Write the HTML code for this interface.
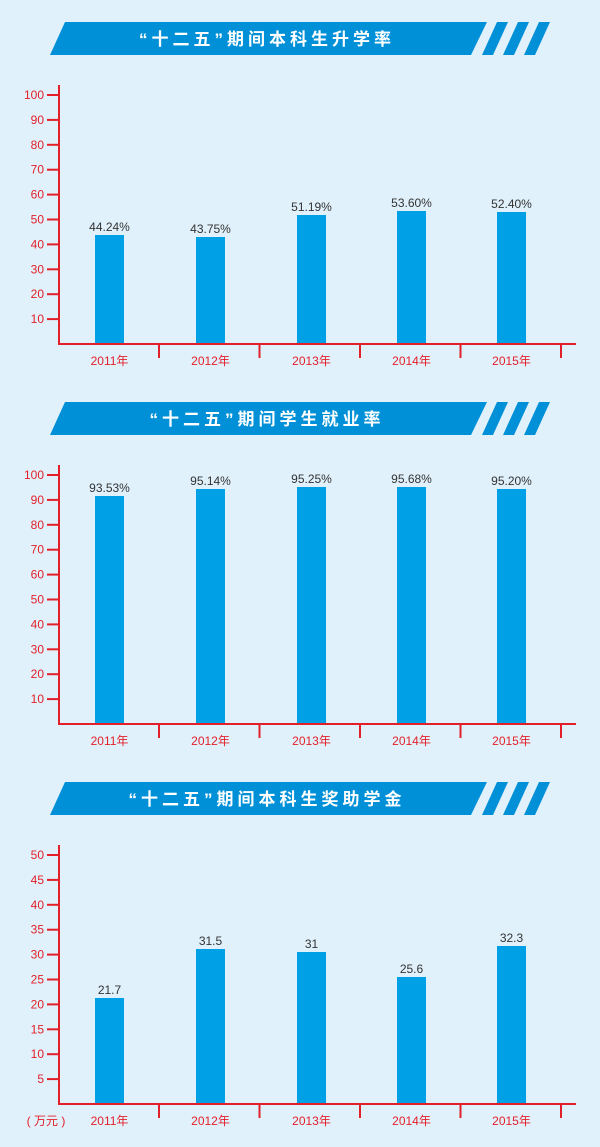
<!DOCTYPE html>
<html><head><meta charset="utf-8">
<style>
html,body{margin:0;padding:0;background:#e0f1fb;}
svg{display:block}
text{font-family:"Liberation Sans","Noto Sans CJK SC",sans-serif}
</style></head>
<body>
<svg id="s" width="600" height="1147" xmlns="http://www.w3.org/2000/svg">
<rect width="600" height="1147" fill="#e0f1fb"/>
</svg>
<script>
var s=document.getElementById('s'),h='';
var charts=[
 {t:'“十二五”期间本科生升学率',ticks:['10','20','30','40','50','60','70','80','90','100'],tops:[235,237,215,211,212],labs:['44.24%','43.75%','51.19%','53.60%','52.40%']},
 {t:'“十二五”期间学生就业率',ticks:['10','20','30','40','50','60','70','80','90','100'],tops:[496,489,487,487,489],labs:['93.53%','95.14%','95.25%','95.68%','95.20%']},
 {t:'“十二五”期间本科生奖助学金',ticks:['5','10','15','20','25','30','35','40','45','50'],tops:[998,949,952,977,946],labs:['21.7','31.5','31','25.6','32.3']}
];
var bx=[95,196,297,397,497],yrs=['2011年','2012年','2013年','2014年','2015年'];
charts.forEach(function(c,i){
 var o=i*380,b=344+o;
 var by=22+o;
 h+='<polygon points="65,'+by+' 487,'+by+' 471,'+(by+33)+' 50,'+(by+33)+'" fill="#0090d8"/>';
 [[497,482],[518,503],[539,524]].forEach(function(p){
  h+='<polygon points="'+p[0]+','+by+' '+(p[0]+11)+','+by+' '+(p[1]+11)+','+(by+33)+' '+p[1]+','+(by+33)+'" fill="#0090d8"/>';
 });
 h+='<text x="267" y="'+(by+23)+'" text-anchor="middle" font-size="17" font-weight="bold" fill="#fff" letter-spacing="4">'+c.t+'</text>';
 c.tops.forEach(function(t,j){
  var tt=t;
  h+='<rect x="'+bx[j]+'" y="'+tt+'" width="29" height="'+(b-tt)+'" fill="#00a0e6"/>';
  h+='<text x="'+(bx[j]+14.5)+'" y="'+(tt-4)+'" text-anchor="middle" font-size="12" fill="#333">'+c.labs[j]+'</text>';
  h+='<text x="'+(bx[j]+14.5)+'" y="'+(b+21)+'" text-anchor="middle" font-size="12" fill="#e3202a">'+yrs[j]+'</text>';
 });
 h+='<line x1="59" y1="'+(85+o)+'" x2="59" y2="'+(b+1)+'" stroke="#e3202a" stroke-width="2"/>';
 h+='<line x1="58" y1="'+b+'" x2="576" y2="'+b+'" stroke="#e3202a" stroke-width="2"/>';
 for(var k=0;k<5;k++){var x=159+k*100.5;h+='<line x1="'+x+'" y1="'+b+'" x2="'+x+'" y2="'+(b+14)+'" stroke="#e3202a" stroke-width="2"/>';}
 c.ticks.forEach(function(l,k){
  var y=b-(k+1)*24.9;
  h+='<line x1="47" y1="'+y+'" x2="59" y2="'+y+'" stroke="#e3202a" stroke-width="2"/>';
  h+='<text x="44" y="'+(y+4)+'" text-anchor="end" font-size="12" fill="#e3202a">'+l+'</text>';
 });
 if(i==2) h+='<text x="46" y="'+(b+21)+'" text-anchor="middle" font-size="12" fill="#e3202a">( 万元 )</text>';
});
s.innerHTML+=h;
</script>
</body></html>
